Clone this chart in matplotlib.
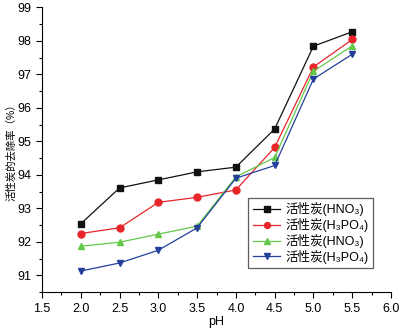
import matplotlib
matplotlib.use('Agg')
import matplotlib.pyplot as plt
from matplotlib.ticker import MultipleLocator, FormatStrFormatter

plt.rcParams['font.family'] = ['Liberation Sans', 'Noto Sans CJK SC', 'DejaVu Sans']

ph = [2.0, 2.5, 3.0, 3.5, 4.0, 4.5, 5.0, 5.5]
hno3_a = [92.54, 93.61, 93.85, 94.09, 94.23, 95.37, 97.84, 98.27]
h3po4_a = [92.25, 92.42, 93.18, 93.33, 93.55, 94.82, 97.22, 98.04]
hno3_b = [91.87, 91.99, 92.23, 92.47, 93.94, 94.52, 97.09, 97.85]
h3po4_b = [91.13, 91.37, 91.75, 92.42, 93.90, 94.28, 96.86, 97.60]

labels = ['活性炭(HNO₃)', '活性炭(H₃PO₄)', '活性炭(HNO₃)', '活性炭(H₃PO₄)']
colors = ['#111111', '#e8262a', '#63c94a', '#243f9c']
markers = ['s', 'o', '^', 'v']

fig = plt.figure(figsize=(4, 3.32), dpi=100)
ax = fig.add_axes([0.105, 0.12, 0.8725, 0.858])

for ys, lab, c, m in zip([hno3_a, h3po4_a, hno3_b, h3po4_b], labels, colors, markers):
    ax.plot(ph, ys, color=c, marker=m, markersize=5, linewidth=0.9, label=lab)

ax.set_xlim(1.5, 6.0)
ax.set_ylim(90.5, 99)
ax.xaxis.set_major_locator(MultipleLocator(0.5))
ax.xaxis.set_minor_locator(MultipleLocator(0.25))
ax.yaxis.set_major_locator(MultipleLocator(1))
ax.yaxis.set_minor_locator(MultipleLocator(0.5))
ax.xaxis.set_major_formatter(FormatStrFormatter('%.1f'))
ax.tick_params(direction='out', labelsize=9, length=4, width=0.8)
ax.tick_params(which='minor', direction='out', length=2.5, width=0.8)
ax.spines['top'].set_visible(False)
ax.spines['right'].set_visible(False)
ax.set_xlabel('pH', fontsize=9, labelpad=1)
ax.set_ylabel('活性炭的去除率（%）', fontsize=7.5, labelpad=1)

leg = ax.legend(loc='lower right', bbox_to_anchor=(0.948, 0.084), fontsize=9,
                frameon=True, fancybox=False, edgecolor='#333333', borderaxespad=0,
                handlelength=2.2, borderpad=0.35, labelspacing=0.15, handletextpad=0.4,
                markerscale=0.85)
leg.get_frame().set_linewidth(0.9)

fig.savefig('out.png', dpi=100)
